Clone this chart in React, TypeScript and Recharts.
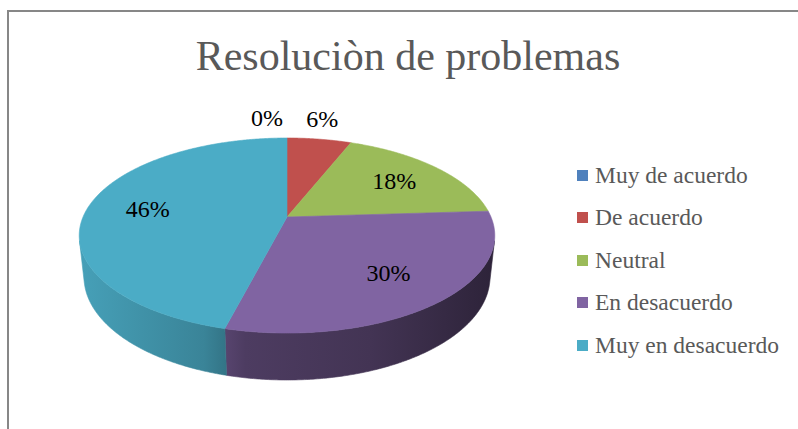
import React from 'react';
import { PieChart, Pie, Cell, Legend } from 'recharts';

const TITLE = 'Resoluciòn de problemas';
const CATEGORIES = ['Muy de acuerdo', 'De acuerdo', 'Neutral', 'En desacuerdo', 'Muy en desacuerdo'];
const VALUES = [0, 6, 18, 30, 46];
const COLORS = ['#4F81BD', '#C0504D', '#9BBB59', '#8064A2', '#4BACC6'];

const data = CATEGORIES.map((name, i) => ({ name, value: VALUES[i] }));

// 3D perspective view parameters
const PHI = (27.44 * Math.PI) / 180;
const DIST = 4.671;
const THICK = 0.2305;
const VIS = Math.acos(-1 / (DIST * Math.cos(PHI)));
const FONT = '"Liberation Serif", "Times New Roman", serif';

function proj(cx: number, cy: number, S: number, th: number, r: number, Y: number): [number, number] {
  const X = r * Math.sin(th);
  const Z = r * Math.cos(th);
  const yc = Y * Math.cos(PHI) + Z * Math.sin(PHI);
  const zc = DIST + Z * Math.cos(PHI) - Y * Math.sin(PHI);
  const f = S * DIST;
  return [cx + (f * X) / zc, cy - (f * yc) / zc];
}

function arcPts(cx: number, cy: number, S: number, from: number, to: number, Y: number) {
  const n = Math.max(2, Math.ceil((to - from) / (Math.PI / 360)));
  const pts: [number, number][] = [];
  for (let i = 0; i <= n; i++) {
    const th = from + ((to - from) * i) / n;
    pts.push(proj(cx, cy, S, th, 1, Y));
  }
  return pts;
}

function shade(hex: string, k: number) {
  const n = parseInt(hex.slice(1), 16);
  const r = Math.round(((n >> 16) & 255) * k);
  const g = Math.round(((n >> 8) & 255) * k);
  const b = Math.round((n & 255) * k);
  return `rgb(${r},${g},${b})`;
}

const WALL_STOPS: [number, number][] = [
  [0, 0.93],
  [0.3, 0.77],
  [0.4, 0.6],
  [0.7, 0.52],
  [1, 0.35],
];

function Sector3D(props: any) {
  const { cx, cy, outerRadius, startAngle, endAngle, fill, index } = props;
  const S = outerRadius;
  const t0 = ((90 - startAngle) * Math.PI) / 180;
  const t1 = ((90 - endAngle) * Math.PI) / 180;
  const a = Math.min(t0, t1);
  const b = Math.max(t0, t1);
  if (b - a < 1e-6) return <g />;
  const apex = proj(cx, cy, S, 0, 0, 0);
  const top = arcPts(cx, cy, S, a, b, 0);
  const topD =
    `M${apex[0]},${apex[1]} ` + top.map((p) => `L${p[0].toFixed(2)},${p[1].toFixed(2)}`).join(' ') + ' Z';
  const wa = Math.max(a, VIS);
  const wb = Math.min(b, 2 * Math.PI - VIS);
  let wall = null;
  const gid = `wallgrad-${index}`;
  if (wb > wa) {
    const up = arcPts(cx, cy, S, wa, wb, 0);
    const dn = arcPts(cx, cy, S, wa, wb, -THICK).reverse();
    const all = up.concat(dn);
    const d = all.map((p, i) => `${i === 0 ? 'M' : 'L'}${p[0].toFixed(2)},${p[1].toFixed(2)}`).join(' ') + ' Z';
    wall = (
      <g>
        <defs>
          <linearGradient id={gid} gradientUnits="userSpaceOnUse" x1={cx - S * 1.02} x2={cx + S * 1.02} y1={0} y2={0}>
            {WALL_STOPS.map(([o, k]) => (
              <stop key={o} offset={o} stopColor={shade(fill, k)} />
            ))}
          </linearGradient>
        </defs>
        <path d={d} fill={`url(#${gid})`} stroke={`url(#${gid})`} strokeWidth={0.6} />
      </g>
    );
  }
  return (
    <g>
      {wall}
      <path d={topD} fill={fill} stroke={fill} strokeWidth={0.6} />
    </g>
  );
}

const renderLabel = (props: any) => {
  const { cx, cy, outerRadius, midAngle, value } = props;
  const th = ((90 - midAngle) * Math.PI) / 180;
  const style = { fontFamily: FONT, fontSize: 24 };
  if (value >= 10) {
    const [x, y] = proj(cx, cy, outerRadius, th, 0.7, 0);
    return (
      <text x={x} y={y + 8} textAnchor="middle" fill="#000" style={style}>
        {`${value}%`}
      </text>
    );
  }
  const [x, y] = proj(cx, cy, outerRadius, th, 1, 0);
  const anchor = value === 0 ? 'end' : 'middle';
  const lx = value === 0 ? x - 4 : x + 3;
  return (
    <text x={lx} y={y - 12} textAnchor={anchor} fill="#000" style={style}>
      {`${value}%`}
    </text>
  );
};

const renderLegend = (props: any) => {
  const payload = [...(props.payload || [])].sort(
    (p: any, q: any) => CATEGORIES.indexOf(p.value) - CATEGORIES.indexOf(q.value)
  );
  return (
    <div style={{ fontFamily: FONT }}>
      {payload.map((entry: any, i: number) => (
        <div key={i} style={{ height: 42.5, display: 'flex', alignItems: 'center' }}>
          <span
            style={{
              width: 11,
              height: 11,
              background: entry.color || COLORS[CATEGORIES.indexOf(entry.value)],
              display: 'inline-block',
              marginRight: 7,
            }}
          />
          <span
            style={{ fontFamily: FONT, fontSize: 23.5, lineHeight: '23px', color: '#595959', whiteSpace: 'nowrap' }}
          >
            {entry.value}
          </span>
        </div>
      ))}
    </div>
  );
};

export default function App() {
  return (
    <div style={{ position: 'absolute', left: 0, top: 0, width: 798, height: 429, overflow: 'hidden', background: '#fff' }}>
      <div
        style={{
          position: 'absolute',
          left: 7,
          top: 10,
          width: 1000,
          height: 1000,
          borderLeft: '2px solid #878787',
          borderTop: '2px solid #878787',
        }}
      />
      <div style={{ position: 'absolute', left: 0, top: 0 }}>
        <PieChart width={798} height={429} margin={{ top: 0, right: 0, bottom: 0, left: 0 }}>
          <Pie
            data={data}
            dataKey="value"
            nameKey="name"
            cx={287}
            cy={217}
            outerRadius={204}
            startAngle={90}
            endAngle={-270}
            stroke="none"
            isAnimationActive={false}
            shape={Sector3D}
            inactiveShape={Sector3D}
            activeShape={Sector3D}
            label={renderLabel}
            labelLine={false}
          >
            {data.map((d, i) => (
              <Cell key={d.name} fill={COLORS[i]} />
            ))}
          </Pie>
          <Legend
            layout="vertical"
            align="right"
            verticalAlign="middle"
            content={renderLegend}
            wrapperStyle={{ left: 577, top: 153.75, width: 215 }}
          />
        </PieChart>
      </div>
      <div
        style={{
          position: 'absolute',
          left: 0,
          top: 35,
          width: 816,
          textAlign: 'center',
          fontFamily: FONT,
          fontSize: 42,
          lineHeight: '42px',
          color: '#595959',
          whiteSpace: 'nowrap',
        }}
      >
        {TITLE}
      </div>
    </div>
  );
}
